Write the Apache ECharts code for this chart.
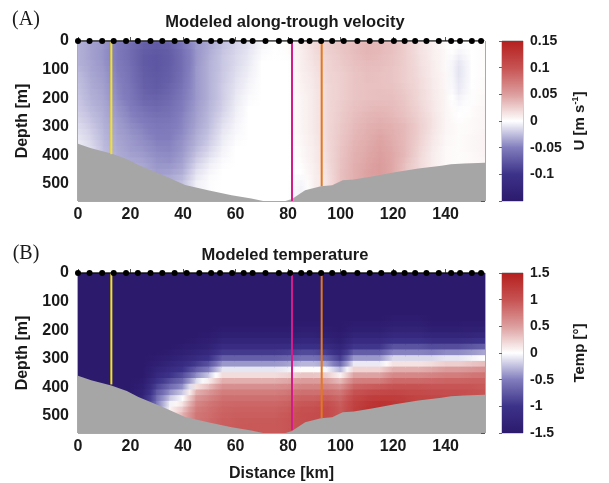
<!DOCTYPE html>
<html>
<head>
<meta charset="utf-8">
<script src="https://cdn.jsdelivr.net/npm/echarts@6/dist/echarts.min.js"></script>
<style>
  html, body { margin: 0; padding: 0; background: #ffffff; }
  #chart { width: 609px; height: 483px; }
</style>
</head>
<body>
<div id="chart"></div>
<script>
// Section grid: one profile every 5 km along the trough, values every 20 m in depth
const distanceKm = [0,5,10,15,20,25,30,35,40,45,50,55,60,65,70,75,80,85,90,95,100,105,110,115,120,125,130,135,140,145,150,155];
const depthM = [0,20,40,60,80,100,120,140,160,180,200,220,240,260,280,300,320,340,360,380,400,420,440,460,480,500,520,540,560];

// Model output stations along the surface
const stationKm = [0,4.4,9.2,13.6,18.3,22.8,27.6,32.1,36.8,41.4,46.2,50.7,54.1,58.7,63.1,66.5,71.4,76.5,80.8,85.0,88.2,92.6,96.8,101.2,106.4,111.1,115.5,120.3,124.4,128.4,132.7,137.4,142.1,145.5,150.0,153.5];

// Seafloor profile
const bathyKm = [0,5,12.7,18.6,23,32,40.8,49.5,58.5,66,70.5,79,81.5,86.5,92.5,96.8,100.8,105,111.9,120.7,129.6,138.4,142,147,155];
const bathyDepthM = [360,375,394,413,434,468,504,522,540,551,560,560,553,522,508,505,487,485,474,459,446,437,431,429,426];

// Mooring positions (km) and the depth each line reaches (m)
const mooringKm = [12.7, 81.5, 92.8];
const mooringBottomA = [396, 560, 508];
const mooringBottomB = [390, 550, 508];
const mooringColors = ['#f4e21c', '#d21c8c', '#e2791f'];

// Along-trough velocity U (m/s), one profile per distance column
const uProfiles = [
  [-0.030,-0.030,-0.030,-0.030,-0.030,-0.028,-0.026,-0.025,-0.024,-0.023,-0.022,-0.021,-0.020,-0.018,-0.016,-0.014,-0.012,-0.010,-0.008,-0.008,-0.008,-0.008,-0.008,-0.008,-0.008,-0.008,-0.008,-0.008,-0.008],
  [-0.035,-0.036,-0.036,-0.036,-0.035,-0.035,-0.034,-0.033,-0.032,-0.031,-0.030,-0.029,-0.027,-0.025,-0.023,-0.021,-0.019,-0.017,-0.015,-0.013,-0.012,-0.012,-0.012,-0.012,-0.012,-0.012,-0.012,-0.012,-0.012],
  [-0.040,-0.041,-0.042,-0.042,-0.041,-0.040,-0.039,-0.038,-0.037,-0.036,-0.035,-0.034,-0.033,-0.032,-0.031,-0.030,-0.029,-0.028,-0.027,-0.026,-0.025,-0.025,-0.025,-0.025,-0.025,-0.025,-0.025,-0.025,-0.025],
  [-0.050,-0.052,-0.052,-0.052,-0.051,-0.050,-0.049,-0.048,-0.047,-0.046,-0.045,-0.043,-0.041,-0.040,-0.038,-0.037,-0.036,-0.035,-0.034,-0.033,-0.032,-0.031,-0.030,-0.030,-0.030,-0.030,-0.030,-0.030,-0.030],
  [-0.056,-0.060,-0.061,-0.061,-0.060,-0.059,-0.058,-0.057,-0.056,-0.055,-0.054,-0.052,-0.050,-0.048,-0.046,-0.044,-0.042,-0.040,-0.039,-0.038,-0.036,-0.034,-0.032,-0.030,-0.030,-0.030,-0.030,-0.030,-0.030],
  [-0.066,-0.070,-0.072,-0.073,-0.073,-0.072,-0.071,-0.070,-0.069,-0.067,-0.065,-0.062,-0.058,-0.055,-0.052,-0.049,-0.047,-0.045,-0.043,-0.041,-0.039,-0.036,-0.034,-0.032,-0.030,-0.030,-0.030,-0.030,-0.030],
  [-0.070,-0.073,-0.075,-0.076,-0.076,-0.076,-0.075,-0.074,-0.073,-0.071,-0.068,-0.065,-0.062,-0.059,-0.056,-0.054,-0.052,-0.050,-0.048,-0.046,-0.044,-0.042,-0.040,-0.038,-0.035,-0.033,-0.033,-0.033,-0.033],
  [-0.064,-0.069,-0.071,-0.072,-0.072,-0.071,-0.070,-0.069,-0.067,-0.065,-0.063,-0.061,-0.059,-0.057,-0.055,-0.053,-0.051,-0.050,-0.048,-0.047,-0.045,-0.043,-0.040,-0.037,-0.033,-0.030,-0.030,-0.030,-0.030],
  [-0.052,-0.056,-0.058,-0.059,-0.059,-0.059,-0.058,-0.057,-0.056,-0.054,-0.053,-0.051,-0.050,-0.048,-0.047,-0.046,-0.045,-0.043,-0.041,-0.040,-0.038,-0.036,-0.034,-0.031,-0.027,-0.024,-0.024,-0.024,-0.024],
  [-0.038,-0.040,-0.041,-0.041,-0.041,-0.040,-0.040,-0.040,-0.040,-0.040,-0.040,-0.039,-0.038,-0.037,-0.036,-0.035,-0.033,-0.031,-0.030,-0.027,-0.024,-0.020,-0.016,-0.012,-0.009,-0.006,-0.006,-0.006,-0.006],
  [-0.033,-0.033,-0.032,-0.031,-0.030,-0.030,-0.030,-0.030,-0.030,-0.030,-0.030,-0.029,-0.028,-0.027,-0.026,-0.025,-0.023,-0.021,-0.019,-0.016,-0.013,-0.009,-0.006,-0.004,-0.002,-0.001,-0.001,-0.001,-0.001],
  [-0.025,-0.024,-0.023,-0.022,-0.022,-0.022,-0.021,-0.021,-0.020,-0.020,-0.020,-0.019,-0.018,-0.016,-0.014,-0.012,-0.010,-0.008,-0.007,-0.005,-0.004,-0.002,-0.001,0,0,0,0,0,0],
  [-0.018,-0.017,-0.016,-0.015,-0.015,-0.014,-0.013,-0.012,-0.011,-0.010,-0.009,-0.008,-0.007,-0.006,-0.005,-0.004,-0.003,-0.002,-0.001,0,0,0,0,0,0,0,0,0,0],
  [-0.012,-0.011,-0.010,-0.009,-0.008,-0.007,-0.006,-0.005,-0.004,-0.003,-0.002,-0.001,0,0,0,0,0,0,0,0,0,0,0,0,0,0,0,0,0],
  [-0.004,-0.003,-0.002,-0.001,0,0,0,0,0,0,0,0,0,0,0,0,0,0,0,0,0,0,0,0,0,0,0,0,0],
  [0,0,0,0,0,0,0,0,0,0,0,0,0,0,0,0,0,0,0,0,0,0,0,0,0,0,0,0,0],
  [0.003,0.002,0.002,0.001,0,0,0,0,0,0,0,0,0,0,0,0,0,0,0,0,0,0,0,0,0,0,0,0,0],
  [0.010,0.010,0.009,0.009,0.008,0.008,0.007,0.007,0.006,0.006,0.005,0.005,0.005,0.005,0.005,0.005,0.005,0.004,0.004,0.003,0.003,0.002,0.001,0,-0.002,-0.004,-0.005,-0.005,-0.005],
  [0.020,0.019,0.018,0.017,0.016,0.015,0.014,0.013,0.013,0.012,0.012,0.012,0.012,0.012,0.012,0.012,0.012,0.011,0.011,0.010,0.010,0.010,0.009,0.009,0.008,0.008,0.008,0.008,0.008],
  [0.026,0.025,0.024,0.023,0.022,0.022,0.021,0.021,0.020,0.020,0.020,0.020,0.020,0.020,0.020,0.020,0.020,0.020,0.019,0.019,0.018,0.018,0.017,0.016,0.015,0.015,0.015,0.015,0.015],
  [0.030,0.030,0.029,0.028,0.027,0.026,0.025,0.025,0.025,0.025,0.025,0.026,0.026,0.027,0.027,0.028,0.028,0.029,0.029,0.030,0.030,0.031,0.031,0.032,0.032,0.032,0.032,0.032,0.032],
  [0.032,0.033,0.034,0.033,0.032,0.031,0.030,0.030,0.030,0.030,0.030,0.031,0.032,0.033,0.034,0.035,0.036,0.037,0.038,0.039,0.040,0.040,0.041,0.041,0.041,0.041,0.041,0.041,0.041],
  [0.036,0.038,0.038,0.037,0.035,0.034,0.033,0.033,0.032,0.032,0.032,0.034,0.035,0.037,0.038,0.040,0.041,0.042,0.043,0.044,0.045,0.046,0.047,0.048,0.048,0.048,0.048,0.048,0.048],
  [0.035,0.036,0.036,0.035,0.034,0.033,0.032,0.032,0.032,0.033,0.033,0.035,0.037,0.039,0.041,0.043,0.045,0.047,0.048,0.049,0.050,0.051,0.052,0.052,0.050,0.050,0.050,0.050,0.050],
  [0.032,0.032,0.032,0.031,0.031,0.030,0.030,0.030,0.031,0.032,0.033,0.034,0.035,0.036,0.038,0.040,0.041,0.042,0.043,0.044,0.045,0.045,0.045,0.045,0.045,0.045,0.045,0.045,0.045],
  [0.025,0.025,0.025,0.025,0.025,0.025,0.025,0.025,0.026,0.027,0.028,0.029,0.030,0.031,0.033,0.035,0.035,0.035,0.035,0.035,0.035,0.033,0.031,0.030,0.030,0.030,0.030,0.030,0.030],
  [0.015,0.016,0.016,0.017,0.017,0.018,0.018,0.019,0.019,0.020,0.020,0.021,0.022,0.023,0.024,0.025,0.025,0.024,0.023,0.022,0.021,0.020,0.020,0.020,0.020,0.020,0.020,0.020,0.020],
  [0.008,0.008,0.009,0.009,0.010,0.010,0.010,0.011,0.011,0.012,0.012,0.013,0.013,0.014,0.015,0.015,0.014,0.013,0.012,0.011,0.010,0.010,0.010,0.010,0.010,0.010,0.010,0.010,0.010],
  [0.002,0.002,0.003,0.003,0.003,0.003,0.004,0.004,0.004,0.005,0.005,0.005,0.005,0.005,0.005,0.005,0.005,0.004,0.004,0.003,0.003,0.003,0.003,0.003,0.003,0.003,0.003,0.003,0.003],
  [0.000,-0.002,-0.004,-0.007,-0.010,-0.011,-0.011,-0.010,-0.009,-0.008,-0.005,-0.003,-0.001,0,0.001,0.002,0.002,0.002,0.002,0.002,0.002,0.002,0.002,0.002,0.002,0.002,0.002,0.002,0.002],
  [0,0,0,0,0,0,0,0,0,0.001,0.001,0.001,0.002,0.002,0.003,0.003,0.003,0.004,0.004,0.004,0.003,0.003,0.003,0.003,0.003,0.003,0.003,0.003,0.003],
  [0.002,0.002,0.002,0.002,0.002,0.002,0.002,0.003,0.003,0.003,0.004,0.004,0.005,0.005,0.005,0.005,0.006,0.006,0.006,0.006,0.006,0.005,0.005,0.005,0.005,0.005,0.005,0.005,0.005]
];

// Potential temperature (°C), one profile per distance column
const tempProfiles = [
  [-1.5,-1.5,-1.5,-1.5,-1.5,-1.5,-1.5,-1.5,-1.5,-1.5,-1.5,-1.5,-1.5,-1.5,-1.5,-1.5,-1.5,-1.5,-1.5,-1.5,-1.5,-1.5,-1.5,-1.5,-1.5,-1.5,-1.5,-1.5,-1.5],
  [-1.5,-1.5,-1.5,-1.5,-1.5,-1.5,-1.5,-1.5,-1.5,-1.5,-1.5,-1.5,-1.5,-1.5,-1.5,-1.5,-1.5,-1.5,-1.5,-1.5,-1.5,-1.5,-1.5,-1.5,-1.5,-1.5,-1.5,-1.5,-1.5],
  [-1.5,-1.5,-1.5,-1.5,-1.5,-1.5,-1.5,-1.5,-1.5,-1.5,-1.5,-1.5,-1.5,-1.5,-1.5,-1.5,-1.5,-1.5,-1.5,-1.5,-1.5,-1.5,-1.5,-1.5,-1.5,-1.5,-1.5,-1.5,-1.5],
  [-1.5,-1.5,-1.5,-1.5,-1.5,-1.5,-1.5,-1.5,-1.5,-1.5,-1.5,-1.5,-1.5,-1.5,-1.5,-1.5,-1.5,-1.5,-1.5,-1.5,-1.5,-1.5,-1.5,-1.5,-1.5,-1.5,-1.5,-1.5,-1.5],
  [-1.5,-1.5,-1.5,-1.5,-1.5,-1.5,-1.5,-1.5,-1.5,-1.5,-1.5,-1.5,-1.5,-1.5,-1.5,-1.5,-1.5,-1.5,-1.5,-1.5,-1.5,-1.5,-1.5,-1.5,-1.5,-1.5,-1.5,-1.5,-1.5],
  [-1.5,-1.5,-1.5,-1.5,-1.5,-1.5,-1.5,-1.5,-1.5,-1.5,-1.5,-1.5,-1.5,-1.5,-1.5,-1.5,-1.5,-1.5,-1.5,-1.45,-1.4,-1.32,-1.25,-1.2,-1.2,-1.2,-1.2,-1.2,-1.2],
  [-1.5,-1.5,-1.5,-1.5,-1.5,-1.5,-1.5,-1.5,-1.5,-1.5,-1.5,-1.5,-1.5,-1.5,-1.5,-1.45,-1.4,-1.3,-1.2,-1.05,-0.9,-0.75,-0.62,-0.55,-0.55,-0.55,-0.55,-0.55,-0.55],
  [-1.5,-1.5,-1.5,-1.5,-1.5,-1.5,-1.5,-1.5,-1.5,-1.5,-1.5,-1.5,-1.5,-1.5,-1.45,-1.38,-1.28,-1.15,-1.0,-0.82,-0.62,-0.42,-0.22,-0.05,0.05,0.05,0.05,0.05,0.05],
  [-1.5,-1.5,-1.5,-1.5,-1.5,-1.5,-1.5,-1.5,-1.5,-1.5,-1.5,-1.5,-1.5,-1.45,-1.38,-1.28,-1.15,-1.0,-0.82,-0.62,-0.42,-0.2,0.0,0.15,0.3,0.4,0.4,0.4,0.4],
  [-1.5,-1.5,-1.5,-1.5,-1.5,-1.5,-1.5,-1.5,-1.5,-1.5,-1.5,-1.5,-1.46,-1.4,-1.3,-1.15,-0.95,-0.72,-0.45,-0.15,0.15,0.4,0.55,0.65,0.72,0.76,0.76,0.76,0.76],
  [-1.5,-1.5,-1.5,-1.5,-1.5,-1.5,-1.5,-1.5,-1.5,-1.5,-1.5,-1.47,-1.42,-1.34,-1.2,-1.02,-0.78,-0.5,-0.2,0.1,0.35,0.55,0.68,0.76,0.8,0.82,0.84,0.84,0.84],
  [-1.5,-1.5,-1.5,-1.5,-1.5,-1.5,-1.5,-1.5,-1.5,-1.5,-1.45,-1.38,-1.28,-1.14,-0.95,-0.7,-0.4,-0.1,0.18,0.42,0.6,0.72,0.8,0.85,0.88,0.9,0.92,0.92,0.92],
  [-1.5,-1.5,-1.5,-1.5,-1.5,-1.5,-1.5,-1.5,-1.5,-1.5,-1.45,-1.38,-1.28,-1.14,-0.95,-0.7,-0.4,-0.1,0.18,0.42,0.6,0.72,0.8,0.86,0.9,0.92,0.94,0.95,0.95],
  [-1.5,-1.5,-1.5,-1.5,-1.5,-1.5,-1.5,-1.5,-1.5,-1.5,-1.45,-1.38,-1.28,-1.14,-0.95,-0.7,-0.4,-0.1,0.18,0.42,0.6,0.72,0.8,0.86,0.9,0.93,0.95,0.96,0.96],
  [-1.5,-1.5,-1.5,-1.5,-1.5,-1.5,-1.5,-1.5,-1.5,-1.5,-1.45,-1.38,-1.28,-1.14,-0.95,-0.7,-0.4,-0.1,0.18,0.42,0.6,0.72,0.8,0.86,0.9,0.93,0.95,0.96,0.96],
  [-1.5,-1.5,-1.5,-1.5,-1.5,-1.5,-1.5,-1.5,-1.5,-1.5,-1.45,-1.38,-1.28,-1.14,-0.95,-0.7,-0.4,-0.1,0.18,0.42,0.6,0.72,0.8,0.86,0.9,0.93,0.95,0.96,0.96],
  [-1.5,-1.5,-1.5,-1.5,-1.5,-1.5,-1.5,-1.5,-1.5,-1.5,-1.45,-1.38,-1.27,-1.12,-0.92,-0.66,-0.36,-0.06,0.22,0.46,0.64,0.76,0.84,0.9,0.94,0.97,0.98,0.98,0.98],
  [-1.5,-1.5,-1.5,-1.5,-1.5,-1.5,-1.5,-1.5,-1.5,-1.47,-1.42,-1.34,-1.22,-1.06,-0.85,-0.58,-0.28,0.02,0.3,0.52,0.68,0.8,0.9,0.97,1.02,1.04,1.04,1.04,1.04],
  [-1.5,-1.5,-1.5,-1.5,-1.5,-1.5,-1.5,-1.5,-1.5,-1.47,-1.42,-1.34,-1.22,-1.06,-0.85,-0.58,-0.28,0.02,0.3,0.52,0.68,0.8,0.9,0.98,1.04,1.06,1.06,1.06,1.06],
  [-1.5,-1.5,-1.5,-1.5,-1.5,-1.5,-1.5,-1.5,-1.5,-1.5,-1.46,-1.4,-1.3,-1.15,-0.95,-0.68,-0.36,-0.04,0.26,0.5,0.68,0.82,0.94,1.04,1.08,1.08,1.08,1.08,1.08],
  [-1.5,-1.5,-1.5,-1.5,-1.5,-1.5,-1.5,-1.5,-1.5,-1.5,-1.5,-1.46,-1.4,-1.3,-1.15,-0.95,-0.65,-0.3,0.05,0.35,0.58,0.75,0.85,0.92,0.95,0.95,0.95,0.95,0.95],
  [-1.5,-1.5,-1.5,-1.5,-1.5,-1.5,-1.5,-1.5,-1.5,-1.46,-1.4,-1.3,-1.16,-0.98,-0.72,-0.4,-0.08,0.22,0.48,0.7,0.88,1.0,1.1,1.15,1.17,1.17,1.17,1.17,1.17],
  [-1.5,-1.5,-1.5,-1.5,-1.5,-1.5,-1.5,-1.5,-1.5,-1.46,-1.4,-1.3,-1.16,-0.98,-0.72,-0.4,-0.08,0.22,0.48,0.72,0.92,1.06,1.18,1.26,1.3,1.3,1.3,1.3,1.3],
  [-1.5,-1.5,-1.5,-1.5,-1.5,-1.5,-1.5,-1.5,-1.5,-1.46,-1.4,-1.3,-1.16,-0.98,-0.72,-0.4,-0.08,0.22,0.48,0.72,0.95,1.1,1.22,1.32,1.36,1.36,1.36,1.36,1.36],
  [-1.5,-1.5,-1.5,-1.5,-1.5,-1.5,-1.5,-1.5,-1.46,-1.4,-1.32,-1.2,-1.02,-0.78,-0.48,-0.15,0.15,0.42,0.65,0.85,1.0,1.12,1.22,1.28,1.3,1.3,1.3,1.3,1.3],
  [-1.5,-1.5,-1.5,-1.5,-1.5,-1.5,-1.5,-1.5,-1.46,-1.4,-1.32,-1.2,-1.02,-0.78,-0.48,-0.15,0.15,0.42,0.65,0.85,1.0,1.1,1.18,1.22,1.22,1.22,1.22,1.22,1.22],
  [-1.5,-1.5,-1.5,-1.5,-1.5,-1.5,-1.5,-1.5,-1.46,-1.4,-1.32,-1.2,-1.02,-0.78,-0.48,-0.15,0.15,0.42,0.65,0.85,1.0,1.08,1.14,1.16,1.16,1.16,1.16,1.16,1.16],
  [-1.5,-1.5,-1.5,-1.5,-1.5,-1.5,-1.5,-1.5,-1.5,-1.47,-1.4,-1.28,-1.1,-0.84,-0.5,-0.15,0.18,0.46,0.68,0.86,0.98,1.06,1.12,1.12,1.12,1.12,1.12,1.12,1.12],
  [-1.5,-1.5,-1.5,-1.5,-1.5,-1.5,-1.5,-1.5,-1.5,-1.47,-1.4,-1.28,-1.1,-0.82,-0.45,-0.1,0.25,0.52,0.72,0.88,0.98,1.05,1.1,1.1,1.1,1.1,1.1,1.1,1.1],
  [-1.5,-1.5,-1.5,-1.5,-1.5,-1.5,-1.5,-1.5,-1.5,-1.47,-1.4,-1.28,-1.1,-0.82,-0.45,-0.1,0.25,0.52,0.72,0.88,0.98,1.05,1.08,1.08,1.08,1.08,1.08,1.08,1.08],
  [-1.5,-1.5,-1.5,-1.5,-1.5,-1.5,-1.5,-1.5,-1.5,-1.46,-1.38,-1.25,-1.05,-0.76,-0.4,-0.05,0.3,0.56,0.76,0.9,0.98,1.02,1.02,1.02,1.02,1.02,1.02,1.02,1.02],
  [-1.5,-1.5,-1.5,-1.5,-1.5,-1.5,-1.5,-1.5,-1.5,-1.45,-1.36,-1.22,-1.0,-0.7,-0.34,0.0,0.34,0.6,0.78,0.9,0.96,0.98,0.98,0.98,0.98,0.98,0.98,0.98,0.98]
];

// Colour axis ticks: [min, max, step]
const uTicks = [-0.15, 0.15, 0.05];
const tTicks = [-1.5, 1.5, 0.5];

// Diverging colour map, listed from the coldest / most negative end
const divergingColors = ['#2c1a6d', '#3c3289', '#817dbd', '#ffffff', '#dc9e9e', '#c75252', '#b4201e'];

const ROW_H = 20;  // m
const FONT = '"Liberation Sans", Arial, Helvetica, sans-serif';
const INK = '#1a1a1a';

function shade(v, range) {
  const t = Math.max(0, Math.min(1, (v - range[0]) / (range[1] - range[0])));
  return echarts.color.lerp(t, divergingColors);
}

// Each cell spans two neighbouring profiles and is shaded between their values
function sectionCells(profiles) {
  const out = [];
  for (let i = 0; i < distanceKm.length - 1; i++) {
    for (let j = 0; j < depthM.length; j++) {
      out.push([distanceKm[i], depthM[j], profiles[i][j], distanceKm[i + 1], profiles[i + 1][j]]);
    }
  }
  return out;
}

function cellRenderer(range) {
  return function (params, api) {
    const x0 = api.value(0), d = api.value(1), v0 = api.value(2), x1 = api.value(3), v1 = api.value(4);
    const a = api.coord([x0, d - ROW_H / 2]);
    const b = api.coord([x1, d + ROW_H / 2]);
    const cs = params.coordSys;
    // slight overlap so neighbouring cells leave no hairline gaps
    const shape = echarts.graphic.clipRectByRect(
      { x: Math.min(a[0], b[0]) - 0.7, y: Math.min(a[1], b[1]) - 0.7,
        width: Math.abs(b[0] - a[0]) + 1.4, height: Math.abs(b[1] - a[1]) + 1.4 },
      { x: cs.x, y: cs.y, width: cs.width, height: cs.height });
    if (!shape) return null;
    const fill = new echarts.graphic.LinearGradient(0, 0, 1, 0, [
      { offset: 0, color: shade(v0, range) },
      { offset: 0.5, color: shade((v0 + v1) / 2, range) },
      { offset: 1, color: shade(v1, range) }
    ]);
    return { type: 'rect', shape: shape, style: { fill: fill } };
  };
}

function colorbarItem(params) {
  const cs = params.coordSys;
  const stops = divergingColors.map((c, i) => ({ offset: i / (divergingColors.length - 1), color: c }));
  return {
    type: 'rect',
    shape: { x: cs.x, y: cs.y, width: cs.width, height: cs.height },
    style: { fill: new echarts.graphic.LinearGradient(0, 1, 0, 0, stops) }
  };
}

const bathyData = bathyKm.map((x, i) => [x, bathyDepthM[i]]);
const stationData = stationKm.map(x => [x, 0]);

const mainGrids = [
  { left: 78, top: 41, width: 407, height: 160 },
  { left: 78, top: 273, width: 407, height: 160 }
];
const barGrids = [
  { left: 502, top: 41, width: 21, height: 160 },
  { left: 502, top: 273, width: 21, height: 160 }
];

const tickLabel = { fontFamily: FONT, fontWeight: 'bold', fontSize: 16, color: INK };

function mainX(g, withName) {
  return {
    type: 'value', gridIndex: g, min: 0, max: 155, interval: 20,
    axisLine: { show: false },
    axisTick: { inside: true, length: 4, lineStyle: { color: '#555', width: 1 } },
    splitLine: { show: false },
    axisLabel: Object.assign({ margin: 6, showMaxLabel: false }, tickLabel),
    name: withName ? 'Distance [km]' : '',
    nameLocation: 'middle', nameGap: 33,
    nameTextStyle: { fontFamily: FONT, fontWeight: 'bold', fontSize: 16, color: INK }
  };
}
function mainY(g) {
  return {
    type: 'value', gridIndex: g, inverse: true, min: 0, max: 560, interval: 100,
    axisLine: { show: false },
    axisTick: { inside: true, length: 4, lineStyle: { color: '#555', width: 1 } },
    splitLine: { show: false },
    axisLabel: Object.assign({ margin: 9, showMaxLabel: false }, tickLabel),
    name: 'Depth [m]', nameLocation: 'middle', nameGap: 47,
    nameTextStyle: { fontFamily: FONT, fontWeight: 'bold', fontSize: 16, color: INK }
  };
}
function mirrorY(g) {
  return {
    type: 'value', gridIndex: g, position: 'right', inverse: true, min: 0, max: 560, interval: 100,
    axisLine: { show: false },
    axisTick: { inside: true, length: 4, lineStyle: { color: '#555', width: 1 } },
    splitLine: { show: false }, axisLabel: { show: false }
  };
}
function barY(g, ticks, name) {
  return {
    type: 'value', gridIndex: g, position: 'right', min: ticks[0], max: ticks[1], interval: ticks[2],
    axisLine: { show: false },
    axisTick: { inside: true, length: 3, lineStyle: { color: '#666', width: 1 } },
    splitLine: { show: false },
    axisLabel: {
      fontFamily: FONT, fontWeight: 'bold', fontSize: 14, color: INK, margin: 7,
      formatter: v => (g === 2 && v < -0.149) ? '' : String(+v.toFixed(2))
    },
    name: name, nameLocation: 'middle', nameRotate: 90, nameGap: 48,
    nameTextStyle: {
      fontFamily: FONT, fontWeight: 'bold', fontSize: 15, color: INK,
      rich: {
        n: { fontFamily: FONT, fontWeight: 'bold', fontSize: 15, color: INK, lineHeight: 18 },
        s: { fontFamily: FONT, fontWeight: 'bold', fontSize: 9, color: INK, verticalAlign: 'top', lineHeight: 9 }
      }
    }
  };
}

function mooringSeries(g, bottoms) {
  return mooringKm.map((x, i) => ({
    type: 'line', xAxisIndex: g, yAxisIndex: g * 2, silent: true, symbol: 'none', z: 4,
    data: [[x, 0], [x, bottoms[i]]],
    lineStyle: { color: mooringColors[i], width: 2 }
  }));
}

function panelSeries(g, profiles, range, bottoms) {
  return [
    { type: 'custom', xAxisIndex: g, yAxisIndex: g * 2, data: sectionCells(profiles),
      renderItem: cellRenderer(range), silent: true, z: 1 },
    { type: 'line', xAxisIndex: g, yAxisIndex: g * 2, data: bathyData, symbol: 'none', silent: true, z: 3,
      lineStyle: { width: 0 }, areaStyle: { color: '#a6a6a6', opacity: 1, origin: 'end' } },
    ...mooringSeries(g, bottoms),
    { type: 'line', xAxisIndex: g, yAxisIndex: g * 2, data: stationData, clip: false, silent: true, z: 5,
      symbol: 'circle', symbolSize: 6, lineStyle: { color: '#000', width: 1 }, itemStyle: { color: '#000' } }
  ];
}

const series = [
  ...panelSeries(0, uProfiles, uTicks, mooringBottomA),
  ...panelSeries(1, tempProfiles, tTicks, mooringBottomB),
  { type: 'custom', xAxisIndex: 2, yAxisIndex: 4, data: [[0.5, 0]], renderItem: colorbarItem, silent: true },
  { type: 'custom', xAxisIndex: 3, yAxisIndex: 5, data: [[0.5, 0]], renderItem: colorbarItem, silent: true }
];

const option = {
  backgroundColor: '#ffffff',
  animation: false,
  grid: [
    ...mainGrids.map(g => Object.assign({ show: true, borderColor: '#555', borderWidth: 1, backgroundColor: 'transparent' }, g)),
    ...barGrids.map(g => Object.assign({ show: true, borderColor: '#888', borderWidth: 0.8, backgroundColor: 'transparent' }, g))
  ],
  xAxis: [
    mainX(0, false), mainX(1, true),
    { type: 'value', gridIndex: 2, min: 0, max: 1, show: false },
    { type: 'value', gridIndex: 3, min: 0, max: 1, show: false }
  ],
  yAxis: [
    mainY(0), mirrorY(0), mainY(1), mirrorY(1),
    barY(2, uTicks, '{n|U [m s}{s|-1}{n|]}'),
    barY(3, tTicks, '{n|Temp [°]}')
  ],
  graphic: [
    { type: 'text', x: 26, y: 20, style: { text: '(A)', font: '20px "Liberation Serif", "Times New Roman", serif', fill: INK, align: 'center', verticalAlign: 'middle' } },
    { type: 'text', x: 26, y: 254, style: { text: '(B)', font: '20px "Liberation Serif", "Times New Roman", serif', fill: INK, align: 'center', verticalAlign: 'middle' } },
    { type: 'text', x: 285, y: 22, style: { text: 'Modeled along-trough velocity', font: 'bold 16.5px ' + FONT, fill: INK, align: 'center', verticalAlign: 'middle' } },
    { type: 'text', x: 285, y: 255, style: { text: 'Modeled temperature', font: 'bold 16.5px ' + FONT, fill: INK, align: 'center', verticalAlign: 'middle' } }
  ],
  series: series
};

const chart = echarts.init(document.getElementById('chart'), null, { renderer: 'canvas' });
chart.setOption(option);
</script>
</body>
</html>
